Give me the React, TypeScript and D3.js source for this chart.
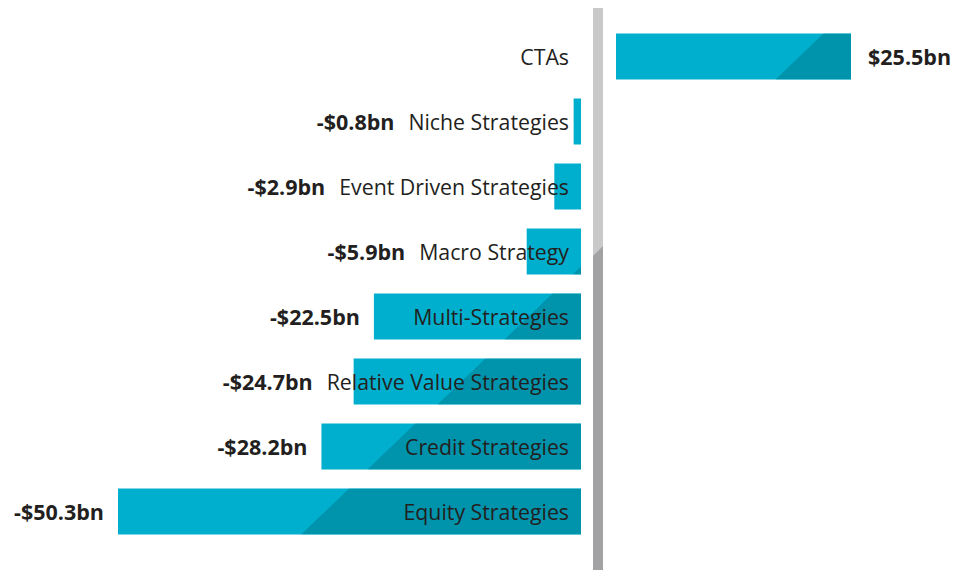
import React, { useEffect, useRef } from "react";
import * as d3 from "d3";

const categories = [
  "CTAs",
  "Niche Strategies",
  "Event Driven Strategies",
  "Macro Strategy",
  "Multi-Strategies",
  "Relative Value Strategies",
  "Credit Strategies",
  "Equity Strategies",
];
const flows = [25.5, -0.8, -2.9, -5.9, -22.5, -24.7, -28.2, -50.3];
// darker share drawn at the right end of each bar (bn, measured along bottom edge)
const shade = [8.2, 0, 0, 0.9, 8.3, 15.6, 23.2, 30.4];
const valueLabels = [
  "$25.5bn",
  "-$0.8bn",
  "-$2.9bn",
  "-$5.9bn",
  "-$22.5bn",
  "-$24.7bn",
  "-$28.2bn",
  "-$50.3bn",
];

const FONT = "'Open Sans', 'Noto Sans', sans-serif";
const TEXT = "#231F20";
const LIGHT = "#00AFCD";
const DARK = "#0093AC";

const App: React.FC = () => {
  const svgRef = useRef<SVGSVGElement | null>(null);

  useEffect(() => {
    document.body.style.margin = "0";
    if (!svgRef.current) return;
    const svg = d3.select(svgRef.current);
    svg.selectAll("*").remove();

    const xNeg = d3.scaleLinear().domain([-50.3, 0]).range([118, 581]);
    const xPos = d3.scaleLinear().domain([0, 25.5]).range([616, 851]);
    const k = (581 - 118) / 50.3;
    const y = d3
      .scaleBand<string>()
      .domain(categories)
      .range([24, 544])
      .paddingInner(19 / 65)
      .paddingOuter(19 / 130);
    const bh = y.bandwidth();

    // central divider
    svg
      .append("rect")
      .attr("x", 593)
      .attr("y", 8)
      .attr("width", 10)
      .attr("height", 562)
      .attr("fill", "#C9C9CA");
    svg
      .append("polygon")
      .attr("points", "593,256 603,246 603,570 593,570")
      .attr("fill", "#A2A2A4");

    const defs = svg.append("defs");

    categories.forEach((cat, i) => {
      const v = flows[i];
      const y0 = y(cat) as number;
      const x0 = v < 0 ? xNeg(v) : xPos(0);
      const x1 = v < 0 ? xNeg(0) : xPos(v);
      const g = svg.append("g");

      defs
        .append("clipPath")
        .attr("id", `clip-${i}`)
        .append("rect")
        .attr("x", x0)
        .attr("y", y0)
        .attr("width", x1 - x0)
        .attr("height", bh);

      g.append("rect")
        .attr("x", x0)
        .attr("y", y0)
        .attr("width", x1 - x0)
        .attr("height", bh)
        .attr("fill", LIGHT);

      if (shade[i] > 0) {
        const bx = x1 - shade[i] * k;
        g.append("polygon")
          .attr("clip-path", `url(#clip-${i})`)
          .attr(
            "points",
            `${bx},${y0 + bh} ${bx + 48},${y0} ${x1 + 60},${y0} ${x1 + 60},${y0 + bh}`
          )
          .attr("fill", DARK);
      }

      const cy = y0 + bh / 2;
      const label = svg
        .append("text")
        .attr("x", 569)
        .attr("y", cy)
        .attr("dy", "0.4em")
        .attr("text-anchor", "end")
        .attr("font-family", FONT)
        .attr("font-size", 21.3)
        .attr("fill", TEXT)
        .text(cat);
      const lw = (label.node() as SVGTextElement).getComputedTextLength();

      const val = svg
        .append("text")
        .attr("y", cy)
        .attr("dy", "0.4em")
        .attr("font-family", FONT)
        .attr("font-size", 21.5)
        .attr("font-weight", 700)
        .attr("fill", TEXT)
        .text(valueLabels[i]);
      if (v < 0) {
        const left = Math.min(x0, 569 - lw);
        val.attr("x", left - 14).attr("text-anchor", "end");
      } else {
        val.attr("x", x1 + 17).attr("text-anchor", "start");
      }
    });
  }, []);

  return <svg ref={svgRef} width={971} height={570} style={{ display: "block" }} />;
};

export default App;
